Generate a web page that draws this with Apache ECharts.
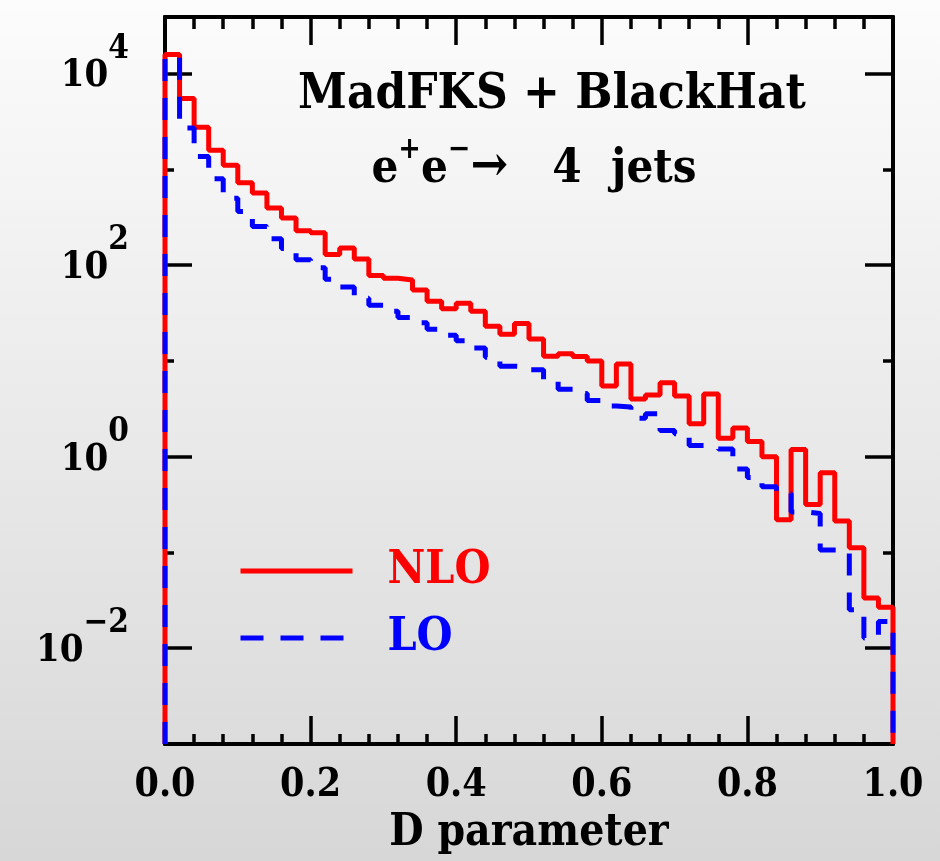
<!DOCTYPE html>
<html>
<head>
<meta charset="utf-8">
<title>D parameter</title>
<script src="https://cdn.jsdelivr.net/npm/echarts@6.0.0/dist/echarts.min.js"></script>
<style>
  html, body { margin: 0; padding: 0; }
  #chart { width: 940px; height: 861px; }
</style>
</head>
<body>
<div id="chart"></div>
<script>
// histogram bins: 50 bins of width 0.02 on [0, 1]
var binWidth = 0.02;

// NLO (red, solid) bin contents
var nloValues = [
  15800, 5500, 2750, 1580, 1100, 725, 565, 395, 310, 228,
  217, 129, 151, 116, 78, 73, 70, 55, 42, 35,
  40, 33, 23, 19, 24.5, 16.9, 11.2, 11.9, 11.1, 9.95,
  5.45, 9.3, 4.0, 4.4, 5.9, 4.3, 2.2, 4.5, 1.56, 1.99,
  1.44, 1.0, 0.219, 1.19, 0.317, 0.68, 0.213, 0.112, 0.0334, 0.0267
];

// LO (blue, dashed) bin contents
var loValues = [
  14800, 2700, 1360, 795, 500, 363, 253, 188, 149, 114,
  94, 71, 59, 45, 38, 33, 28.3, 25, 21.4, 18.5,
  16.2, 13.6, 10.9, 8.8, 8.7, 8.1, 6.3, 5.05, 4.55, 3.85,
  3.37, 3.3, 2.52, 2.8, 1.88, 1.73, 1.31, 1.27, 1.2, 0.745,
  0.605, 0.484, 0.412, 0.265, 0.255, 0.106, 0.106, 0.0252, 0.0128, 0.019
];

// y axis works in log10 space
var logMin = -3;
var logMax = 4.59;
var majorDecades = [-2, 0, 2, 4];
var minorDecades = [-1, 1, 3];

var fontFamily = '"DejaVu Serif Condensed", "DejaVu Serif", serif';

function histPoints(values) {
  var pts = [[0, logMin]];
  values.forEach(function (v, i) {
    pts.push([i * binWidth, Math.log10(v)]);
  });
  var last = values.length - 1;
  pts.push([values.length * binWidth, Math.log10(values[last])]);
  pts.push([values.length * binWidth, logMin]);
  return pts;
}

function decadeLabel(v) {
  var e = Math.round(v);
  var s = e < 0 ? '\u2212' + (-e) : '' + e;
  return '{b|10}{s|' + s + '}';
}

var labelRich = {
  b: { fontSize: 38, fontWeight: 'bold', fontFamily: fontFamily, color: '#000', lineHeight: 44, verticalAlign: 'bottom' },
  s: { fontSize: 33, fontWeight: 'bold', fontFamily: fontFamily, color: '#000', lineHeight: 33, padding: [0, 0, 30, 0], verticalAlign: 'bottom' }
};

var chart = echarts.init(document.getElementById('chart'));

function yAxisDef(position, values, len, withLabels) {
  return {
    type: 'value',
    position: position,
    min: logMin,
    max: logMax,
    axisLine: { show: true, onZero: false, lineStyle: { color: '#000', width: 4 } },
    axisTick: { show: true, inside: true, length: len, customValues: values, lineStyle: { color: '#000', width: 3.5 } },
    axisLabel: withLabels ? {
      show: true,
      customValues: majorDecades,
      margin: 36,
      formatter: decadeLabel,
      rich: labelRich
    } : { show: false },
    splitLine: { show: false }
  };
}

function xAxisDef(position, minorLen, withLabels) {
  return {
    type: 'value',
    position: position,
    min: 0,
    max: 1,
    interval: 0.2,
    name: withLabels ? 'D parameter' : '',
    nameLocation: 'middle',
    nameGap: 68,
    nameTextStyle: { fontSize: 44, fontWeight: 'bold', fontFamily: fontFamily, color: '#000' },
    axisLine: { show: true, onZero: false, lineStyle: { color: '#000', width: 4 } },
    axisTick: { show: true, inside: true, length: 28, lineStyle: { color: '#000', width: 3.5 } },
    minorTick: { show: true, splitNumber: 5, length: minorLen, lineStyle: { color: '#000', width: 3.5 } },
    axisLabel: withLabels ? {
      show: true,
      margin: 22,
      showMinLabel: true,
      showMaxLabel: true,
      fontSize: 39,
      fontWeight: 'bold',
      fontFamily: fontFamily,
      color: '#000',
      formatter: function (v) { return v.toFixed(1); }
    } : { show: false },
    splitLine: { show: false },
    minorSplitLine: { show: false }
  };
}

var option = {
  animation: false,
  backgroundColor: new echarts.graphic.LinearGradient(0, 0, 0, 1, [
    { offset: 0, color: '#fcfcfc' },
    { offset: 1, color: '#d7d7d7' }
  ]),
  title: [{
    text: 'MadFKS + BlackHat',
    left: 547,
    top: 66,
    textAlign: 'center',
    textStyle: { fontSize: 49, fontWeight: 'bold', fontFamily: fontFamily, color: '#000' }
  }, {
    text: '{m|e}{s|+}{m|e}{s|\u2212}{a|\u2192}{m|   4  jets}',
    left: 529,
    top: 134,
    textAlign: 'center',
    textStyle: {
      rich: {
        m: { fontSize: 47, fontWeight: 'bold', fontFamily: fontFamily, color: '#000', lineHeight: 54, verticalAlign: 'bottom' },
        s: { fontSize: 30, fontWeight: 'bold', fontFamily: fontFamily, color: '#000', lineHeight: 30, padding: [0, 0, 28, 0], verticalAlign: 'bottom' },
        a: { fontSize: 50, fontWeight: 'bold', fontFamily: fontFamily, color: '#000', lineHeight: 50, verticalAlign: 'bottom' }
      }
    }
  }],
  legend: {
    orient: 'vertical',
    left: 238,
    top: 546,
    padding: 0,
    itemWidth: 112,
    itemHeight: 20,
    itemGap: 17,
    selectedMode: false,
    itemStyle: { opacity: 0 },
    textStyle: { fontSize: 46, fontWeight: 'bold', fontFamily: fontFamily, lineHeight: 50, padding: [0, 0, 0, 30] },
    data: [
      { name: 'NLO', textStyle: { color: '#ff0000' }, lineStyle: { width: 5, color: '#ff0000' } },
      { name: 'LO', textStyle: { color: '#0000ff' }, lineStyle: { width: 5, color: '#0000ff', type: [23, 17] } }
    ]
  },
  grid: { left: 165, right: 47, top: 17, bottom: 117 },
  xAxis: [
    xAxisDef('bottom', 10, true),
    xAxisDef('top', 12, false)
  ],
  yAxis: [
    yAxisDef('left', majorDecades, 27, true),
    yAxisDef('left', minorDecades, 9, false),
    yAxisDef('right', majorDecades, 28, false),
    yAxisDef('right', minorDecades, 10, false)
  ],
  series: [{
    name: 'NLO',
    type: 'line',
    step: 'end',
    symbol: 'none',
    clip: false,
    lineStyle: { color: '#ff0000', width: 5 },
    itemStyle: { color: '#ff0000' },
    data: histPoints(nloValues)
  }, {
    name: 'LO',
    type: 'line',
    step: 'end',
    symbol: 'none',
    clip: false,
    lineStyle: { color: '#0000ff', width: 5, type: [22, 17] },
    itemStyle: { color: '#0000ff' },
    data: histPoints(loValues)
  }]
};

chart.setOption(option);
</script>
</body>
</html>
